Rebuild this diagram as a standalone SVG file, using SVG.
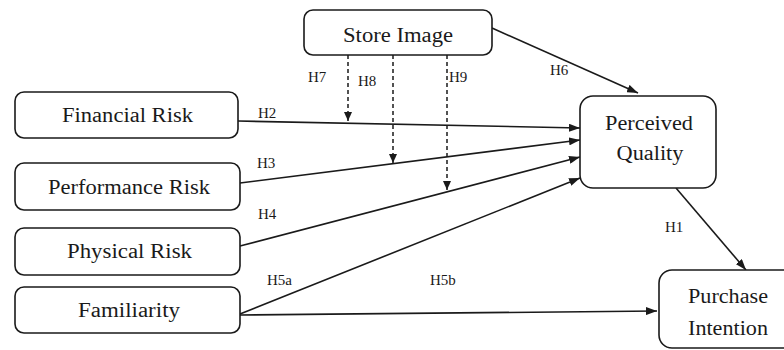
<svg xmlns="http://www.w3.org/2000/svg" width="784" height="350" viewBox="0 0 784 350">
<style>
.box{fill:#fff;stroke:#1a1a1a;stroke-width:1.6}
.t{font-family:"Liberation Serif","Times New Roman",serif;font-size:20px;fill:#1a1a1a;text-anchor:middle}
.h{font-family:"Liberation Serif","Times New Roman",serif;font-size:15px;fill:#1a1a1a}
.c{stroke:#1a1a1a;stroke-width:1.6;fill:none}
.d{stroke:#1a1a1a;stroke-width:1.5;fill:none;stroke-dasharray:4 3}
</style>
<defs>
<marker id="ah" viewBox="0 0 11 8" refX="11" refY="4" markerWidth="11" markerHeight="8" markerUnits="userSpaceOnUse" orient="auto">
<path d="M0,0 L11,4 L0,8 z" fill="#1a1a1a"/>
</marker>
<marker id="ad" viewBox="0 0 9 8" refX="9" refY="4" markerWidth="9" markerHeight="8" markerUnits="userSpaceOnUse" orient="auto">
<path d="M0,0 L9,4 L0,8 z" fill="#1a1a1a"/>
</marker>
</defs>
<rect width="784" height="350" fill="#fff"/>
<g id="connectors">
<line class="c" x1="492" y1="28" x2="638" y2="93" marker-end="url(#ah)"/>
<line class="c" x1="238" y1="121" x2="580" y2="128" marker-end="url(#ah)"/>
<line class="c" x1="240" y1="183" x2="580" y2="140" marker-end="url(#ah)"/>
<line class="c" x1="240" y1="246" x2="580" y2="157" marker-end="url(#ah)"/>
<line class="c" x1="240" y1="314" x2="580" y2="178" marker-end="url(#ah)"/>
<line class="c" x1="240" y1="315" x2="657" y2="311" marker-end="url(#ah)"/>
<line class="c" x1="676" y1="188" x2="746" y2="270" marker-end="url(#ah)"/>
<line class="d" x1="348" y1="55" x2="348" y2="121" marker-end="url(#ad)"/>
<line class="d" x1="393" y1="55" x2="393" y2="163" marker-end="url(#ad)"/>
<line class="d" x1="447" y1="55" x2="447" y2="190" marker-end="url(#ad)"/>
<text class="h" x="308" y="82">H7</text>
<text class="h" x="358" y="86">H8</text>
<text class="h" x="449" y="82">H9</text>
<text class="h" x="550" y="75">H6</text>
<text class="h" x="258" y="118">H2</text>
<text class="h" x="257" y="168">H3</text>
<text class="h" x="258" y="219">H4</text>
<text class="h" x="267" y="285">H5a</text>
<text class="h" x="430" y="285">H5b</text>
<text class="h" x="665" y="232">H1</text>
</g>
<g id="store-image">
<rect class="box" x="304" y="10" width="188" height="45" rx="9"/>
<text class="t" x="398" y="42" textLength="110" lengthAdjust="spacingAndGlyphs">Store Image</text>
</g>
<g id="financial-risk">
<rect class="box" x="15" y="92" width="223" height="46" rx="9"/>
<text class="t" x="127.5" y="122" textLength="131" lengthAdjust="spacingAndGlyphs">Financial Risk</text>
</g>
<g id="performance-risk">
<rect class="box" x="15" y="163" width="225" height="47" rx="9"/>
<text class="t" x="129" y="194" textLength="162" lengthAdjust="spacingAndGlyphs">Performance Risk</text>
</g>
<g id="physical-risk">
<rect class="box" x="15" y="228" width="225" height="47" rx="9"/>
<text class="t" x="129.5" y="258" textLength="125" lengthAdjust="spacingAndGlyphs">Physical Risk</text>
</g>
<g id="familiarity">
<rect class="box" x="15" y="287" width="225" height="46" rx="9"/>
<text class="t" x="129" y="317" textLength="102" lengthAdjust="spacingAndGlyphs">Familiarity</text>
</g>
<g id="perceived-quality">
<rect class="box" x="580" y="96" width="136" height="92" rx="13"/>
<text class="t" x="649" y="130" textLength="88" lengthAdjust="spacingAndGlyphs">Perceived</text>
<text class="t" x="650" y="160" textLength="67" lengthAdjust="spacingAndGlyphs">Quality</text>
</g>
<g id="purchase-intention">
<rect class="box" x="659" y="270" width="140" height="78" rx="13"/>
<text class="t" x="728" y="303" textLength="80" lengthAdjust="spacingAndGlyphs">Purchase</text>
<text class="t" x="728" y="335" textLength="80" lengthAdjust="spacingAndGlyphs">Intention</text>
</g>
</svg>
